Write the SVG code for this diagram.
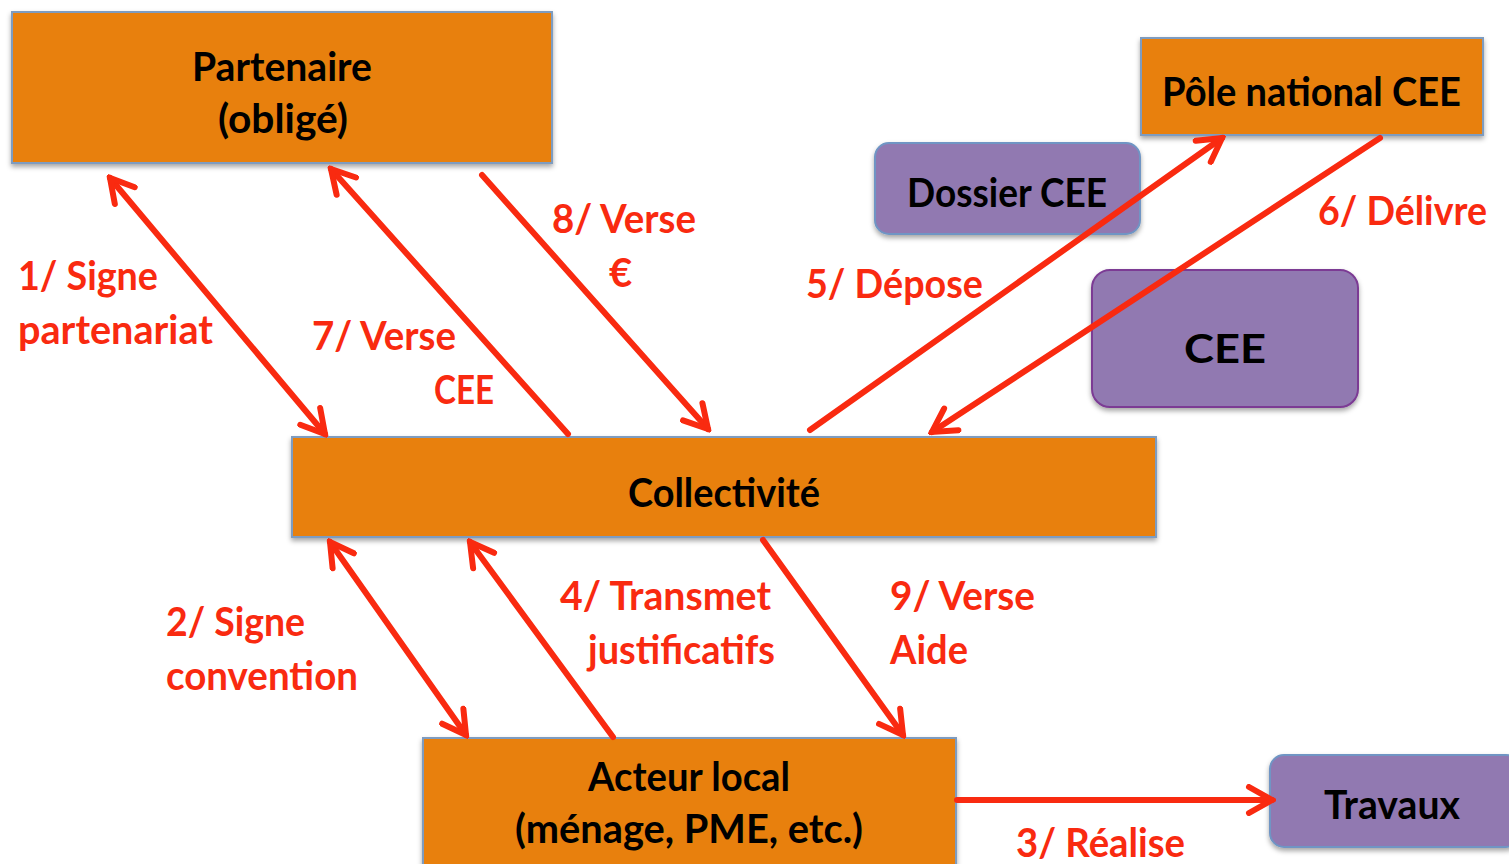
<svg xmlns="http://www.w3.org/2000/svg" width="1509" height="864" viewBox="0 0 1509 864">
<style>
.box{fill:#E8800A;stroke:#7E9CC0;stroke-width:2;filter:url(#sh)}
.pur{fill:#9179B1;stroke:#6F95C4;stroke-width:2;filter:url(#sh)}
.pur2{fill:#9179B1;stroke:#7B3B94;stroke-width:2;filter:url(#sh)}
.t{font-family:Lato,"Liberation Sans",sans-serif;font-weight:700;font-size:40px;fill:#000}
.l{font-family:Lato,"Liberation Sans",sans-serif;font-weight:700;font-size:40px;fill:#F92A10}
.c{fill:none;stroke:#F92A10;stroke-width:6;stroke-linecap:round}
</style>
<defs>
<filter id="sh" x="-5%" y="-10%" width="110%" height="130%">
<feDropShadow dx="0" dy="3" stdDeviation="2.5" flood-color="#000" flood-opacity="0.35"/>
</filter>
<marker id="ah" viewBox="0 0 32 32" refX="28" refY="16" markerWidth="32" markerHeight="32" markerUnits="userSpaceOnUse" orient="auto-start-reverse">
<path d="M5,3 L28,16 L5,29" fill="none" stroke="#F92A10" stroke-width="6" stroke-linecap="round" stroke-linejoin="miter"/>
</marker>
</defs>
<rect width="1509" height="864" fill="#fff"/>

<g id="partenaire">
<rect class="box" x="12" y="12" width="540" height="151"/>
<text class="t" x="192" y="81" textLength="180" lengthAdjust="spacingAndGlyphs">Partenaire</text>
<text class="t" x="218" y="133" textLength="130" lengthAdjust="spacingAndGlyphs">(obligé)</text>
</g>

<g id="pole">
<rect class="box" x="1141" y="38" width="342" height="97"/>
<text class="t" x="1162" y="106" textLength="299" lengthAdjust="spacingAndGlyphs">Pôle national CEE</text>
</g>

<g id="dossier">
<rect class="pur" x="875" y="143" width="265" height="91" rx="14"/>
<text class="t" x="907" y="207" textLength="200" lengthAdjust="spacingAndGlyphs">Dossier CEE</text>
</g>

<g id="cee">
<rect class="pur2" x="1092" y="270" width="266" height="137" rx="18"/>
<text class="t" x="1184" y="363" font-size="55" textLength="82" lengthAdjust="spacingAndGlyphs">CEE</text>
</g>

<g id="collectivite">
<rect class="box" x="292" y="437" width="864" height="100"/>
<text class="t" x="628" y="507" textLength="192" lengthAdjust="spacingAndGlyphs">Collectivité</text>
</g>

<g id="acteur">
<rect class="box" x="423" y="738" width="533" height="130"/>
<text class="t" x="588" y="791" textLength="202" lengthAdjust="spacingAndGlyphs">Acteur local</text>
<text class="t" x="515" y="843" textLength="348" lengthAdjust="spacingAndGlyphs">(ménage, PME, etc.)</text>
</g>

<g id="travaux">
<rect class="pur" x="1270" y="755" width="250" height="92" rx="14"/>
<text class="t" x="1324" y="819" textLength="136" lengthAdjust="spacingAndGlyphs">Travaux</text>
</g>

<g id="connectors">
<line class="c" x1="110" y1="178" x2="325" y2="434" marker-start="url(#ah)" marker-end="url(#ah)"/>
<line class="c" x1="568" y1="434" x2="331" y2="169" marker-end="url(#ah)"/>
<line class="c" x1="482" y1="175" x2="708" y2="429" marker-end="url(#ah)"/>
<line class="c" x1="810" y1="430" x2="1222" y2="138" marker-end="url(#ah)"/>
<line class="c" x1="1380" y1="138" x2="932" y2="432" marker-end="url(#ah)"/>
<line class="c" x1="330" y1="542" x2="466" y2="735" marker-start="url(#ah)" marker-end="url(#ah)"/>
<line class="c" x1="613" y1="737" x2="470" y2="542" marker-end="url(#ah)"/>
<line class="c" x1="763" y1="540" x2="903" y2="735" marker-end="url(#ah)"/>
<line class="c" x1="957" y1="800" x2="1272" y2="800" marker-end="url(#ah)"/>
</g>

<g id="labels">
<text class="l" x="18" y="290" textLength="140" lengthAdjust="spacingAndGlyphs">1/ Signe</text>
<text class="l" x="18" y="344" textLength="195" lengthAdjust="spacingAndGlyphs">partenariat</text>
<text class="l" x="312" y="350" textLength="144" lengthAdjust="spacingAndGlyphs">7/ Verse</text>
<text class="l" x="434" y="404" textLength="60" lengthAdjust="spacingAndGlyphs">CEE</text>
<text class="l" x="552" y="233" textLength="144" lengthAdjust="spacingAndGlyphs">8/ Verse</text>
<text class="l" x="609" y="287">€</text>
<text class="l" x="806" y="298" textLength="177" lengthAdjust="spacingAndGlyphs">5/ Dépose</text>
<text class="l" x="1318" y="225" textLength="169" lengthAdjust="spacingAndGlyphs">6/ Délivre</text>
<text class="l" x="166" y="636" textLength="139" lengthAdjust="spacingAndGlyphs">2/ Signe</text>
<text class="l" x="166" y="690" textLength="192" lengthAdjust="spacingAndGlyphs">convention</text>
<text class="l" x="560" y="610" textLength="211" lengthAdjust="spacingAndGlyphs">4/ Transmet</text>
<text class="l" x="588" y="664" textLength="187" lengthAdjust="spacingAndGlyphs">justificatifs</text>
<text class="l" x="890" y="610" textLength="145" lengthAdjust="spacingAndGlyphs">9/ Verse</text>
<text class="l" x="890" y="664" textLength="78" lengthAdjust="spacingAndGlyphs">Aide</text>
<text class="l" x="1016" y="857" textLength="169" lengthAdjust="spacingAndGlyphs">3/ Réalise</text>
</g>
</svg>
